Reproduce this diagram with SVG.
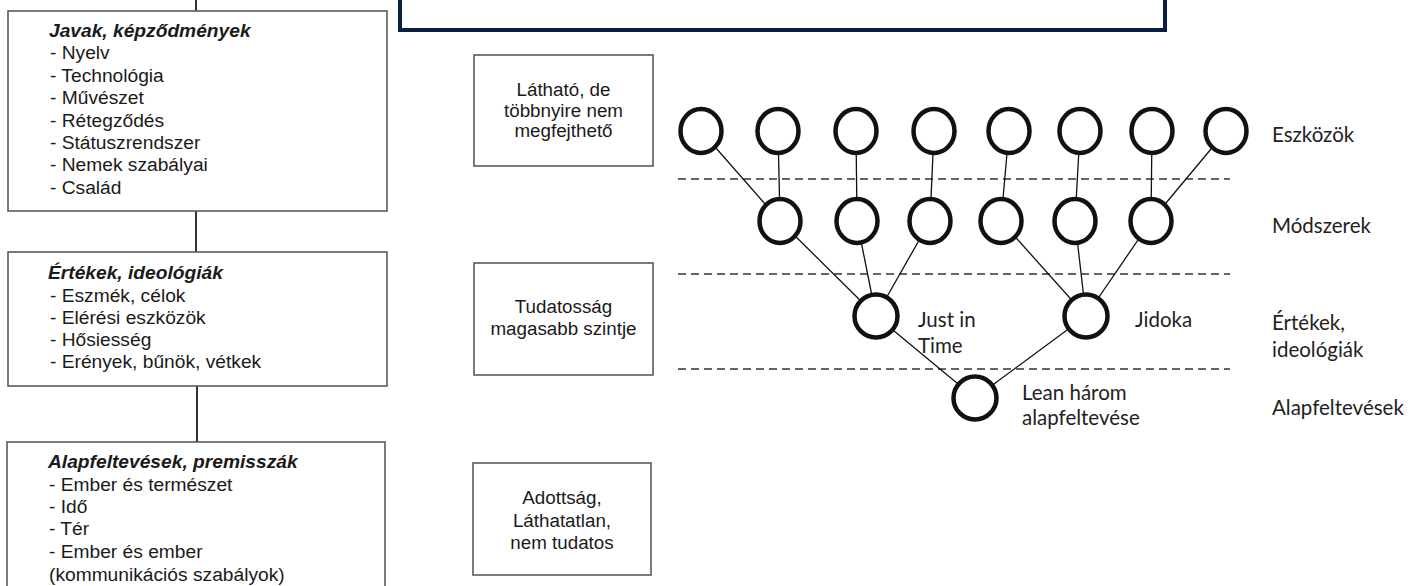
<svg xmlns="http://www.w3.org/2000/svg" width="1421" height="586" viewBox="0 0 1421 586">
<style>
.box{fill:#fff;stroke:#5a5a5a;stroke-width:1.6}
.ar{font-family:"Liberation Sans",Arial,sans-serif;font-size:19.2px;fill:#1a1a1a}
.arb{font-family:"Liberation Sans",Arial,sans-serif;font-size:19.2px;fill:#1a1a1a;font-weight:bold;font-style:italic}
.mid{font-family:"Liberation Sans",Arial,sans-serif;font-size:18.8px;fill:#1a1a1a;text-anchor:middle}
.cal{font-family:Lato,"Open Sans",sans-serif;font-size:20.5px;fill:#222}
.node{fill:#fff;stroke:#111;stroke-width:4.5}
.edge{stroke:#111;stroke-width:1.3}
.dash{stroke:#333;stroke-width:1.5;stroke-dasharray:8 5}
.vc{stroke:#333;stroke-width:2}
</style>
<rect width="1421" height="586" fill="#fff"/>
<g id="title-box"><rect x="400" y="-20" width="765" height="50" fill="#fff" stroke="#0b1f45" stroke-width="4"/></g>
<g id="connectors">
<line class="vc" x1="196" y1="0" x2="196" y2="11"/>
<line class="vc" x1="196" y1="200" x2="196" y2="252"/>
<line class="vc" x1="197" y1="386" x2="197" y2="442"/>
<line class="dash" x1="678" y1="179" x2="1230" y2="179"/>
<line class="dash" x1="678" y1="274" x2="1230" y2="274"/>
<line class="dash" x1="678" y1="369" x2="1230" y2="369"/>
<line class="edge" x1="701" y1="131" x2="780" y2="221"/>
<line class="edge" x1="778" y1="131" x2="780" y2="221"/>
<line class="edge" x1="856" y1="131" x2="857" y2="221"/>
<line class="edge" x1="934" y1="131" x2="930" y2="221"/>
<line class="edge" x1="1009" y1="131" x2="1001" y2="221"/>
<line class="edge" x1="1080" y1="131" x2="1075" y2="221"/>
<line class="edge" x1="1152" y1="131" x2="1151" y2="221"/>
<line class="edge" x1="1226" y1="131" x2="1151" y2="221"/>
<line class="edge" x1="780" y1="221" x2="876" y2="316"/>
<line class="edge" x1="857" y1="221" x2="876" y2="316"/>
<line class="edge" x1="930" y1="221" x2="876" y2="316"/>
<line class="edge" x1="1001" y1="221" x2="1086" y2="316"/>
<line class="edge" x1="1075" y1="221" x2="1086" y2="316"/>
<line class="edge" x1="1151" y1="221" x2="1086" y2="316"/>
<line class="edge" x1="876" y1="316" x2="975" y2="398"/>
<line class="edge" x1="1086" y1="316" x2="975" y2="398"/>
</g>
<g id="javak">
<rect class="box" x="8" y="11" width="379" height="200"/>
<text class="arb" x="49" y="37">Javak, képződmények</text>
<text class="ar" x="50" y="59.4">- Nyelv</text>
<text class="ar" x="50" y="81.8">- Technológia</text>
<text class="ar" x="50" y="104.2">- Művészet</text>
<text class="ar" x="50" y="126.6">- Rétegződés</text>
<text class="ar" x="50" y="149">- Státuszrendszer</text>
<text class="ar" x="50" y="171.4">- Nemek szabályai</text>
<text class="ar" x="50" y="193.8">- Család</text>
</g>
<g id="ertekek">
<rect class="box" x="8" y="252" width="379" height="134"/>
<text class="arb" x="48" y="279">Értékek, ideológiák</text>
<text class="ar" x="50" y="302">- Eszmék, célok</text>
<text class="ar" x="50" y="324">- Elérési eszközök</text>
<text class="ar" x="50" y="346">- Hősiesség</text>
<text class="ar" x="50" y="368">- Erények, bűnök, vétkek</text>
</g>
<g id="alap">
<rect class="box" x="7" y="442" width="378" height="160"/>
<text class="arb" x="48" y="468">Alapfeltevések, premisszák</text>
<text class="ar" x="49" y="491">- Ember és természet</text>
<text class="ar" x="49" y="513">- Idő</text>
<text class="ar" x="49" y="535">- Tér</text>
<text class="ar" x="49" y="558">- Ember és ember</text>
<text class="ar" x="49" y="581">(kommunikációs szabályok)</text>
</g>
<g id="lathato">
<rect class="box" x="474" y="55" width="179" height="111"/>
<text class="mid" x="563.5" y="96">Látható, de</text>
<text class="mid" x="563.5" y="116.5">többnyire nem</text>
<text class="mid" x="563.5" y="137">megfejthető</text>
</g>
<g id="tudatossag">
<rect class="box" x="474" y="263" width="179" height="112"/>
<text class="mid" x="563.5" y="313">Tudatosság</text>
<text class="mid" x="563.5" y="335">magasabb szintje</text>
</g>
<g id="adottsag">
<rect class="box" x="473" y="463" width="178" height="112"/>
<text class="mid" x="562" y="504">Adottság,</text>
<text class="mid" x="562" y="527">Láthatatlan,</text>
<text class="mid" x="562" y="549">nem tudatos</text>
</g>
<g id="t1"><ellipse class="node" cx="701" cy="131" rx="20.5" ry="22"/></g>
<g id="t2"><ellipse class="node" cx="778" cy="131" rx="20.5" ry="22"/></g>
<g id="t3"><ellipse class="node" cx="856" cy="131" rx="20.5" ry="22"/></g>
<g id="t4"><ellipse class="node" cx="934" cy="131" rx="20.5" ry="22"/></g>
<g id="t5"><ellipse class="node" cx="1009" cy="131" rx="20.5" ry="22"/></g>
<g id="t6"><ellipse class="node" cx="1080" cy="131" rx="20.5" ry="22"/></g>
<g id="t7"><ellipse class="node" cx="1152" cy="131" rx="20.5" ry="22"/></g>
<g id="t8"><ellipse class="node" cx="1226" cy="131" rx="20.5" ry="22"/></g>
<g id="m1"><ellipse class="node" cx="780" cy="221" rx="20.5" ry="22"/></g>
<g id="m2"><ellipse class="node" cx="857" cy="221" rx="20.5" ry="22"/></g>
<g id="m3"><ellipse class="node" cx="930" cy="221" rx="20.5" ry="22"/></g>
<g id="m4"><ellipse class="node" cx="1001" cy="221" rx="20.5" ry="22"/></g>
<g id="m5"><ellipse class="node" cx="1075" cy="221" rx="20.5" ry="22"/></g>
<g id="m6"><ellipse class="node" cx="1151" cy="221" rx="20.5" ry="22"/></g>
<g id="jit"><circle class="node" cx="876" cy="316" r="21.5"/>
<text class="cal" x="918" y="327">Just in</text>
<text class="cal" x="918" y="353">Time</text></g>
<g id="jidoka"><circle class="node" cx="1086" cy="316" r="21.5"/>
<text class="cal" x="1135" y="327">Jidoka</text></g>
<g id="lean"><circle class="node" cx="975" cy="398" r="21.5"/>
<text class="cal" x="1022" y="400">Lean három</text>
<text class="cal" x="1022" y="425">alapfeltevése</text></g>
<g id="levels">
<text class="cal" x="1272" y="142">Eszközök</text>
<text class="cal" x="1272" y="233">Módszerek</text>
<text class="cal" x="1272" y="330">Értékek,</text>
<text class="cal" x="1272" y="357">ideológiák</text>
<text class="cal" x="1272" y="415">Alapfeltevések</text>
</g>
</svg>
